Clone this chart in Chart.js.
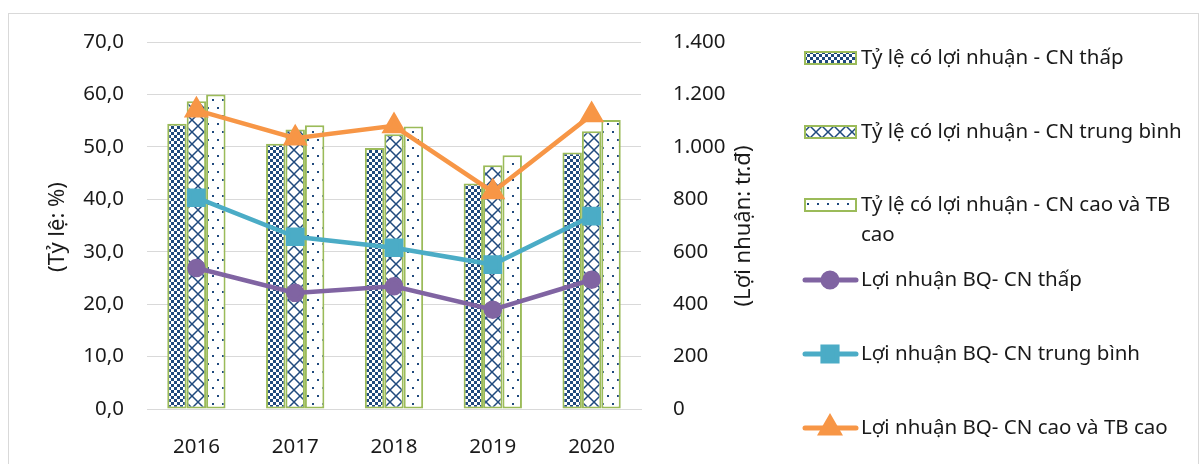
<!DOCTYPE html>
<html>
<head>
<meta charset="utf-8">
<script src="https://cdn.jsdelivr.net/npm/chart.js@4.4.1/dist/chart.umd.min.js"></script>
<style>
    body { margin: 0; background: #fff; }
</style>
</head>
<body>
<canvas id="myChart" width="1204" height="464"></canvas>
<script>
const years = ['2016', '2017', '2018', '2019', '2020'];
const rateLow = [54.4, 50.6, 49.8, 43.0, 48.9];
const rateMid = [58.7, 53.3, 52.4, 46.5, 53.0];
const rateHigh = [60.0, 54.1, 53.9, 48.4, 55.1];
const profitLow = [538, 443, 468, 379, 493];
const profitMid = [806, 657, 615, 551, 736];
const profitHigh = [1140, 1033, 1080, 828, 1122];
const leftTicks = ['0,0', '10,0', '20,0', '30,0', '40,0', '50,0', '60,0', '70,0'];
const rightTicks = ['0', '200', '400', '600', '800', '1.000', '1.200', '1.400'];

const FONT = '"Noto Sans", sans-serif';
const navy = '#1F497D';
const textColor = '#1a1a1a';

function makePattern(kind) {
    const c = document.createElement('canvas');
    const ctx = c.getContext('2d');
    if (kind === 'checker') {
        c.width = 6; c.height = 6;
        ctx.fillStyle = navy;
        ctx.fillRect(0, 0, 6, 6);
        ctx.fillStyle = '#fff';
        ctx.fillRect(0, 0, 3, 3);
        ctx.fillRect(3, 3, 3, 3);
    } else if (kind === 'cross') {
        c.width = 12; c.height = 12;
        ctx.fillStyle = '#fff';
        ctx.fillRect(0, 0, 12, 12);
        ctx.strokeStyle = navy;
        ctx.lineWidth = 1.5;
        ctx.beginPath();
        ctx.moveTo(0, 0); ctx.lineTo(12, 12);
        ctx.moveTo(12, 0); ctx.lineTo(0, 12);
        ctx.stroke();
    } else {
        c.width = 10; c.height = 16;
        ctx.fillStyle = '#fff';
        ctx.fillRect(0, 0, 10, 16);
        ctx.fillStyle = navy;
        ctx.fillRect(2, 3, 2, 2);
        ctx.fillRect(7, 11, 2, 2);
    }
    return ctx.createPattern(c, 'repeat');
}

// legend + axis titles + frame, drawn by hand (Excel style)
const decorPlugin = {
    id: 'decor',
    beforeDraw(chart) {
        const ctx = chart.ctx;
        ctx.save();
        ctx.strokeStyle = '#d9d9d9';
        ctx.lineWidth = 1;
        ctx.strokeRect(8.5, 13.5, 1190, 470);
        ctx.restore();
    },
    afterDraw(chart) {
        const ctx = chart.ctx;
        ctx.save();
        ctx.fillStyle = textColor;
        ctx.font = '22px ' + FONT;
        ctx.textAlign = 'center';
        ctx.textBaseline = 'middle';

        ctx.save();
        ctx.translate(58, 227);
        ctx.rotate(-Math.PI / 2);
        ctx.fillText('(Tỷ lệ: %)', 0, 0);
        ctx.restore();

        ctx.save();
        ctx.translate(744, 226);
        ctx.rotate(-Math.PI / 2);
        ctx.fillText('(Lợi nhuận: tr.đ)', 0, 0);
        ctx.restore();

        const rowY = [58, 132, 205, 280, 354, 428];
        ctx.font = '20.5px ' + FONT;
        ctx.textAlign = 'left';
        chart.data.datasets.forEach((ds, i) => {
            const y = rowY[i];
            if (ds.type === 'line') {
                ctx.strokeStyle = ds.borderColor;
                ctx.lineWidth = 5;
                ctx.lineCap = 'round';
                ctx.beginPath();
                ctx.moveTo(805, y);
                ctx.lineTo(856, y);
                ctx.stroke();
                ctx.fillStyle = ds.borderColor;
                Chart.helpers.drawPoint(ctx, {
                    pointStyle: ds.pointStyle,
                    radius: ds.pointRadius,
                    borderWidth: 1
                }, 830, y);
            } else {
                ctx.fillStyle = ds.backgroundColor;
                ctx.fillRect(805, y - 6, 51, 12);
                ctx.strokeStyle = ds.borderColor;
                ctx.lineWidth = 2;
                ctx.strokeRect(805, y - 6, 51, 12);
            }
            ctx.fillStyle = textColor;
            ds.label.split('\n').forEach((line, k) => {
                ctx.fillText(line, 861, y + k * 30);
            });
        });
        ctx.restore();
    }
};

const barStyle = {
    type: 'bar',
    yAxisID: 'y',
    borderColor: '#9BBB59',
    borderWidth: 2,
    borderSkipped: false,
    order: 2,
    categoryPercentage: 0.59,
    barPercentage: 1
};

const lineStyle = {
    type: 'line',
    yAxisID: 'y1',
    borderWidth: 4.5,
    tension: 0,
    order: 1
};

const tickFont = { family: FONT, size: 20.5 };

new Chart(document.getElementById('myChart'), {
    data: {
        labels: years,
        datasets: [
            Object.assign({}, barStyle, {
                label: 'Tỷ lệ có lợi nhuận - CN thấp',
                data: rateLow,
                backgroundColor: makePattern('checker')
            }),
            Object.assign({}, barStyle, {
                label: 'Tỷ lệ có lợi nhuận - CN trung bình',
                data: rateMid,
                backgroundColor: makePattern('cross')
            }),
            Object.assign({}, barStyle, {
                label: 'Tỷ lệ có lợi nhuận - CN cao và TB\ncao',
                data: rateHigh,
                backgroundColor: makePattern('dots')
            }),
            Object.assign({}, lineStyle, {
                label: 'Lợi nhuận BQ- CN thấp',
                data: profitLow,
                borderColor: '#8064A2',
                backgroundColor: '#8064A2',
                pointStyle: 'circle',
                pointRadius: 7
            }),
            Object.assign({}, lineStyle, {
                label: 'Lợi nhuận BQ- CN trung bình',
                data: profitMid,
                borderColor: '#4BACC6',
                backgroundColor: '#4BACC6',
                pointStyle: 'rect',
                pointRadius: 10
            }),
            Object.assign({}, lineStyle, {
                label: 'Lợi nhuận BQ- CN cao và TB cao',
                data: profitHigh,
                borderColor: '#F79646',
                backgroundColor: '#F79646',
                pointStyle: 'triangle',
                pointRadius: 10
            })
        ]
    },
    options: {
        responsive: false,
        animation: false,
        layout: {
            padding: { left: 0, top: 42, right: 423, bottom: 0 }
        },
        plugins: {
            legend: { display: false },
            tooltip: { enabled: false }
        },
        scales: {
            x: {
                grid: { display: false },
                border: { color: '#d9d9d9' },
                ticks: {
                    color: textColor,
                    font: tickFont,
                    padding: 18
                },
                afterFit: function (scale) { scale.height = 55; }
            },
            y: {
                position: 'left',
                min: 0,
                max: 70,
                ticks: {
                    stepSize: 10,
                    color: textColor,
                    font: tickFont,
                    padding: 23,
                    callback: function (v, i) { return leftTicks[i]; }
                },
                grid: { color: '#d9d9d9', drawTicks: false },
                border: { display: false },
                afterFit: function (scale) { scale.width = 147; }
            },
            y1: {
                position: 'right',
                min: 0,
                max: 1400,
                ticks: {
                    stepSize: 200,
                    color: textColor,
                    font: tickFont,
                    padding: 24,
                    callback: function (v, i) { return rightTicks[i]; }
                },
                grid: { display: false },
                border: { display: false },
                afterFit: function (scale) { scale.width = 140; }
            }
        }
    },
    plugins: [decorPlugin]
});
</script>
</body>
</html>
